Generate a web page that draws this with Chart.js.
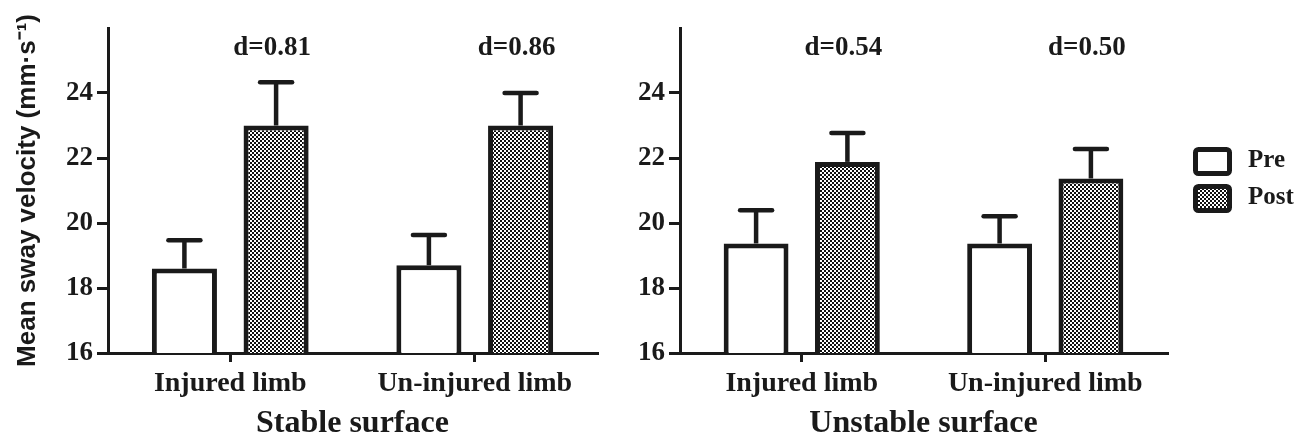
<!DOCTYPE html>
<html>
<head>
<meta charset="utf-8">
<script src="https://cdn.jsdelivr.net/npm/chart.js@4"></script>
<style>
  body { margin: 0; background: #fff; }
  .panel { position: absolute; top: 0; height: 440px; }
  #left { left: 0; width: 610px; }
  #right { left: 610px; width: 700px; }
</style>
</head>
<body>
<div class="panel" id="left"><canvas id="chartStable" width="610" height="440"></canvas></div>
<div class="panel" id="right"><canvas id="chartUnstable" width="700" height="440"></canvas></div>
<script>
// data
const limbs = ['Injured limb', 'Un-injured limb'];
const seriesNames = ['Pre', 'Post'];

const stablePre = [18.6, 18.7];
const stablePost = [23.0, 23.0];
const stablePreErr = [19.47, 19.63];
const stablePostErr = [24.33, 24.0];
const stableEffect = ['d=0.81', 'd=0.86'];

const unstablePre = [19.37, 19.37];
const unstablePost = [21.88, 21.37];
const unstablePreErr = [20.39, 20.21];
const unstablePostErr = [22.77, 22.28];
const unstableEffect = ['d=0.54', 'd=0.50'];

const yTicks = [16, 18, 20, 22, 24];

const ink = '#1a1a1a';
const serif = 'Liberation Serif';

Chart.defaults.font.family = serif;
Chart.defaults.color = ink;

// small checkerboard used for the Post bars
function makeChecker() {
    const c = document.createElement('canvas');
    c.width = 4;
    c.height = 4;
    const g = c.getContext('2d');
    g.fillStyle = '#fff';
    g.fillRect(0, 0, 4, 4);
    g.fillStyle = '#111';
    g.fillRect(0, 0, 2, 2);
    g.fillRect(2, 2, 2, 2);
    return g.createPattern(c, 'repeat');
}
const checker = makeChecker();

// upper error bars, taken from dataset.errTop
const errorBars = {
    id: 'errorBars',
    afterDatasetsDraw(chart) {
        const ctx = chart.ctx;
        const y = chart.scales.y;
        ctx.save();
        ctx.strokeStyle = ink;
        ctx.lineWidth = 4.5;
        chart.data.datasets.forEach((ds, i) => {
            chart.getDatasetMeta(i).data.forEach((bar, j) => {
                const top = y.getPixelForValue(ds.errTop[j]);
                ctx.lineCap = 'butt';
                ctx.beginPath();
                ctx.moveTo(bar.x, bar.y);
                ctx.lineTo(bar.x, top);
                ctx.stroke();
                ctx.lineCap = 'round';
                ctx.beginPath();
                ctx.moveTo(bar.x - 16, top);
                ctx.lineTo(bar.x + 16, top);
                ctx.stroke();
            });
        });
        ctx.restore();
    }
};

// effect size text above the Post bars
const effectLabels = {
    id: 'effectLabels',
    afterDraw(chart, args, opts) {
        const ctx = chart.ctx;
        const meta = chart.getDatasetMeta(1);
        ctx.save();
        ctx.font = 'bold 27px ' + serif;
        ctx.fillStyle = ink;
        ctx.textAlign = 'center';
        ctx.textBaseline = 'middle';
        meta.data.forEach((bar, j) => {
            ctx.fillText(opts.labels[j], bar.x - 4, chart.chartArea.top + 20);
        });
        ctx.restore();
    }
};

// legend at the far right, using the dataset styles
const sideLegend = {
    id: 'sideLegend',
    afterDraw(chart, args, opts) {
        if (!opts.show) return;
        const ctx = chart.ctx;
        ctx.save();
        chart.data.datasets.forEach((ds, i) => {
            const bx = opts.x, by = opts.y + i * 37;
            ctx.beginPath();
            ctx.roundRect(bx + 2.5, by + 2.5, 34, 24, 3);
            ctx.fillStyle = ds.backgroundColor;
            ctx.fill();
            ctx.lineWidth = 5;
            ctx.strokeStyle = ink;
            ctx.stroke();
            ctx.fillStyle = ink;
            ctx.font = 'bold 25px ' + serif;
            ctx.textBaseline = 'middle';
            ctx.fillText(ds.label, bx + 55, by + 14);
        });
        ctx.restore();
    }
};

function buildChart(id, pre, post, preErr, postErr, effect, surface, withYTitle, yWidth, padRight, legend) {
    return new Chart(document.getElementById(id), {
        type: 'bar',
        data: {
            labels: limbs,
            datasets: [
                {
                    label: seriesNames[0],
                    data: pre,
                    errTop: preErr,
                    backgroundColor: '#fff',
                    borderColor: ink,
                    borderWidth: 5,
                    borderSkipped: 'bottom'
                },
                {
                    label: seriesNames[1],
                    data: post,
                    errTop: postErr,
                    backgroundColor: checker,
                    borderColor: ink,
                    borderWidth: 5,
                    borderSkipped: 'bottom'
                }
            ]
        },
        options: {
            responsive: false,
            animation: false,
            devicePixelRatio: 1,
            categoryPercentage: 0.75,
            barPercentage: 0.71,
            layout: { padding: { top: 28, right: padRight, left: 0, bottom: 0 } },
            plugins: {
                legend: { display: false },
                tooltip: { enabled: false },
                effectLabels: { labels: effect },
                sideLegend: legend
            },
            scales: {
                x: {
                    grid: { display: true, drawOnChartArea: false, offset: false, tickLength: 9, color: ink, lineWidth: 3 },
                    border: { display: true, color: ink, width: 3 },
                    ticks: { font: { size: 28, weight: 'bold' }, padding: 5, color: ink },
                    title: {
                        display: true,
                        text: surface,
                        font: { size: 32, weight: 'bold', lineHeight: 1 },
                        padding: { top: 0, bottom: 0 },
                        color: ink
                    },
                    afterFit: s => { s.height = 87; }
                },
                y: {
                    min: 16,
                    max: 26,
                    afterBuildTicks: s => { s.ticks = yTicks.map(v => ({ value: v })); },
                    grid: { display: true, drawOnChartArea: false, tickLength: 11, color: ink, lineWidth: 3 },
                    border: { display: true, color: ink, width: 3 },
                    ticks: { font: { size: 27, weight: 'bold' }, padding: 4, color: ink },
                    title: {
                        display: withYTitle,
                        text: 'Mean sway velocity (mm·s⁻¹)',
                        font: { family: 'Liberation Sans', size: 26, weight: 'bold', lineHeight: 1.2 },
                        padding: { top: 12, bottom: 0 },
                        color: ink
                    },
                    afterFit: s => { s.width = yWidth; }
                }
            }
        },
        plugins: [errorBars, effectLabels, sideLegend]
    });
}

buildChart('chartStable', stablePre, stablePost, stablePreErr, stablePostErr, stableEffect,
    'Stable surface', true, 108, 13, { show: false });
buildChart('chartUnstable', unstablePre, unstablePost, unstablePreErr, unstablePostErr, unstableEffect,
    'Unstable surface', false, 70, 143, { show: true, x: 583, y: 147 });
</script>
</body>
</html>
